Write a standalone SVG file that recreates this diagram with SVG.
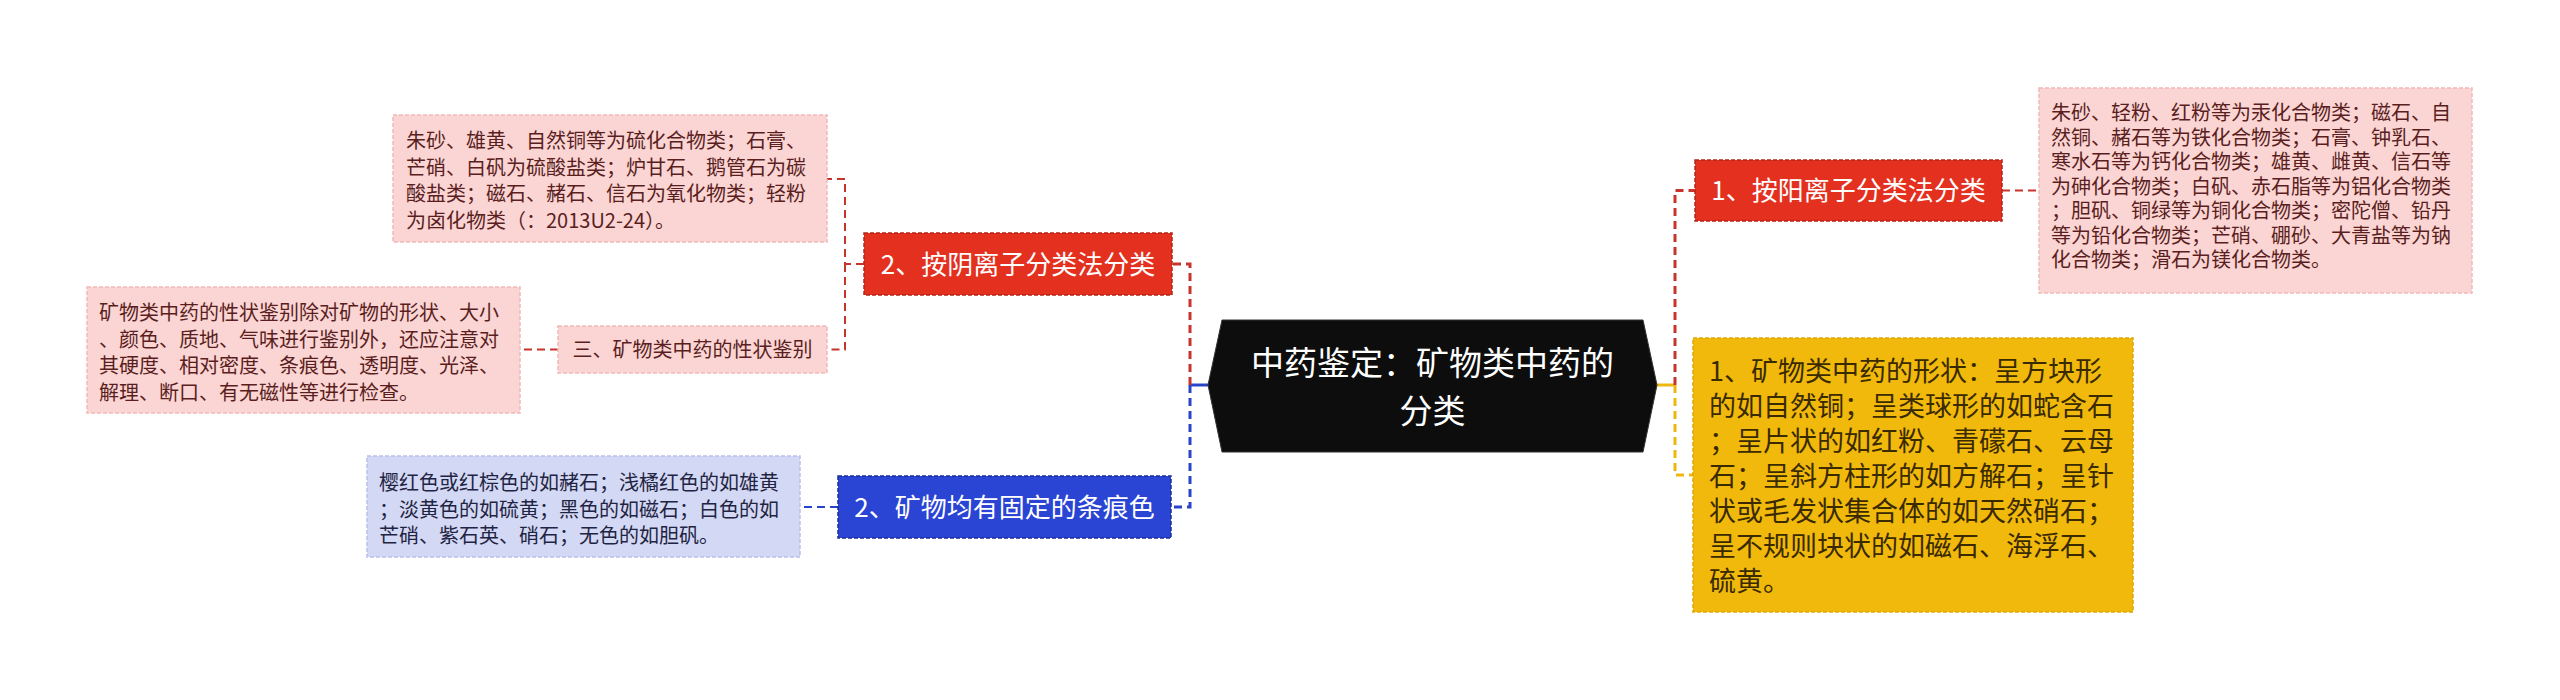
<svg xmlns="http://www.w3.org/2000/svg" width="2560" height="700" viewBox="0 0 2560 700">
<style>
text{font-family:"Noto Sans CJK SC","Noto Sans",sans-serif}
.c{stroke-width:2;fill:none;stroke-dasharray:8 5}
.cr{stroke:#c8342c}
.cb{stroke:#2a44c8}
.cy{stroke:#eeb70e}
.pink{fill:#fbd5d3;stroke:#f1b9b6;stroke-width:1.5;stroke-dasharray:4 2}
.lblue{fill:#d3d8f5;stroke:#b9c0ec;stroke-width:1.5;stroke-dasharray:4 2}
.red{fill:#e3301f;stroke:#b72518;stroke-width:1.5;stroke-dasharray:4 2}
.blue{fill:#2a44d4;stroke:#1b2c9c;stroke-width:1.5;stroke-dasharray:4 2}
.yel{fill:#f1b90c;stroke:#e0a600;stroke-width:1.5;stroke-dasharray:4 2}
.tp{font-size:20px;fill:#5a1e1e}
.tl{font-size:20px;fill:#1f2442}
.ty{font-size:27px;fill:#3a2a00}
.tw{font-size:26px;fill:#ffffff;text-anchor:middle}
</style>
<g id="connectors">
<line x1="1657" y1="385" x2="1675" y2="385" stroke="#eeb70e" stroke-width="3"/>
<path class="c cr" style="stroke-width:3" d="M1675,385 V190.5 H1695"/>
<path class="c cy" style="stroke-width:3" d="M1675,385 V475 H1693"/>
<path class="c cr" d="M2002,190.5 H2039"/>
<line x1="1208" y1="385" x2="1190" y2="385" stroke="#2a44c8" stroke-width="3"/>
<path class="c cr" style="stroke-width:3" d="M1190,385 V264 H1172"/>
<path class="c cb" style="stroke-width:3" d="M1190,385 V507 H1171"/>
<path class="c cr" d="M864,264 H845 V179 H827"/>
<path class="c cr" d="M845,264 V349.5 H827"/>
<path class="c cr" d="M558,349.5 H520"/>
<path class="c cb" d="M838,507 H800"/>
</g>
<g id="center">
<polygon points="1222,320 1643,320 1657,385 1643,452 1222,452 1208,385" fill="#0d0d0d" stroke="#333" stroke-width="1"/>
<text font-size="33" fill="#ffffff" text-anchor="middle"><tspan x="1432.5" y="375">中药鉴定：矿物类中药的</tspan><tspan x="1432.5" y="423">分类</tspan></text>
</g>
<g id="n-yang">
<rect class="red" x="1695" y="160" width="307" height="61"/>
<text class="tw" x="1848.5" y="200">1、按阳离子分类法分类</text>
</g>
<g id="n-yang-detail">
<rect class="pink" x="2039" y="88" width="433" height="205"/>
<text class="tp" x="2051" y="120">朱砂、轻粉、红粉等为汞化合物类；磁石、自</text>
<text class="tp" x="2051" y="144.5">然铜、赭石等为铁化合物类；石膏、钟乳石、</text>
<text class="tp" x="2051" y="169">寒水石等为钙化合物类；雄黄、雌黄、信石等</text>
<text class="tp" x="2051" y="193.5">为砷化合物类；白矾、赤石脂等为铝化合物类</text>
<text class="tp" x="2051" y="218">；胆矾、铜绿等为铜化合物类；密陀僧、铅丹</text>
<text class="tp" x="2051" y="242.5">等为铅化合物类；芒硝、硼砂、大青盐等为钠</text>
<text class="tp" x="2051" y="267">化合物类；滑石为镁化合物类。</text>
</g>
<g id="n-shape">
<rect class="yel" x="1693" y="338" width="440" height="274"/>
<text class="ty" x="1709" y="381">1、矿物类中药的形状：呈方块形</text>
<text class="ty" x="1709" y="416">的如自然铜；呈类球形的如蛇含石</text>
<text class="ty" x="1709" y="451">；呈片状的如红粉、青礞石、云母</text>
<text class="ty" x="1709" y="486">石；呈斜方柱形的如方解石；呈针</text>
<text class="ty" x="1709" y="521">状或毛发状集合体的如天然硝石；</text>
<text class="ty" x="1709" y="556">呈不规则块状的如磁石、海浮石、</text>
<text class="ty" x="1709" y="591">硫黄。</text>
</g>
<g id="n-yin">
<rect class="red" x="864" y="233" width="308" height="62"/>
<text class="tw" x="1018" y="274">2、按阴离子分类法分类</text>
</g>
<g id="n-yin-detail">
<rect class="pink" x="393" y="115" width="434" height="127"/>
<text class="tp" x="406" y="148">朱砂、雄黄、自然铜等为硫化合物类；石膏、</text>
<text class="tp" x="406" y="174.5">芒硝、白矾为硫酸盐类；炉甘石、鹅管石为碳</text>
<text class="tp" x="406" y="201">酸盐类；磁石、赭石、信石为氧化物类；轻粉</text>
<text class="tp" x="406" y="227.5">为卤化物类（：2013U2-24）。</text>
</g>
<g id="n-xingzhuang">
<rect class="pink" x="558" y="326" width="269" height="47"/>
<text class="tp" x="692.5" y="357" text-anchor="middle">三、矿物类中药的性状鉴别</text>
</g>
<g id="n-xingzhuang-detail">
<rect class="pink" x="87" y="287" width="433" height="126"/>
<text class="tp" x="99" y="320">矿物类中药的性状鉴别除对矿物的形状、大小</text>
<text class="tp" x="99" y="346.5">、颜色、质地、气味进行鉴别外，还应注意对</text>
<text class="tp" x="99" y="373">其硬度、相对密度、条痕色、透明度、光泽、</text>
<text class="tp" x="99" y="399.5">解理、断口、有无磁性等进行检查。</text>
</g>
<g id="n-tiaohen">
<rect class="blue" x="838" y="476" width="333" height="62"/>
<text class="tw" x="1004.5" y="517">2、矿物均有固定的条痕色</text>
</g>
<g id="n-tiaohen-detail">
<rect class="lblue" x="367" y="456" width="433" height="101"/>
<text class="tl" x="379" y="490">樱红色或红棕色的如赭石；浅橘红色的如雄黄</text>
<text class="tl" x="379" y="516.5">；淡黄色的如硫黄；黑色的如磁石；白色的如</text>
<text class="tl" x="379" y="543">芒硝、紫石英、硝石；无色的如胆矾。</text>
</g>
</svg>
